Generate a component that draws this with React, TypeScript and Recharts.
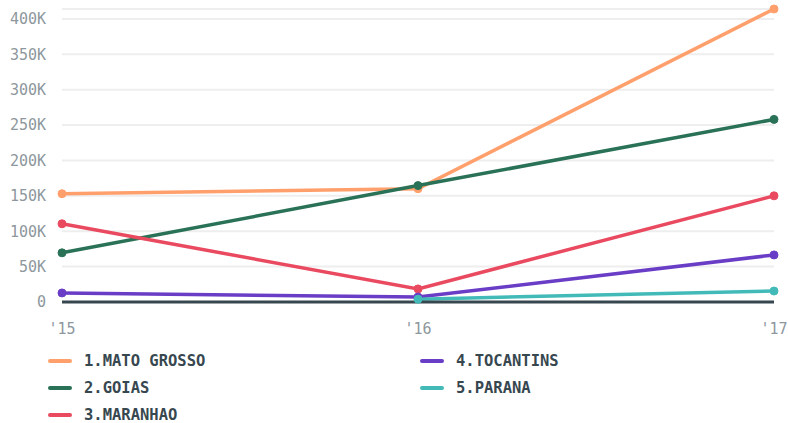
import { LineChart, Line, XAxis, YAxis, CartesianGrid } from 'recharts';

const years = ["'15", "'16", "'17"];
const matoGrosso = [153000, 160000, 414000];
const goias = [69500, 164500, 258000];
const maranhao = [110500, 18500, 150000];
const tocantins = [12800, 7000, 66500];
const parana = [null, 4000, 15500];
const yTicks = [0, 50000, 100000, 150000, 200000, 250000, 300000, 350000, 400000];

const series = [
  { key: 'mato', name: '1.MATO GROSSO', color: '#ffa06c', values: matoGrosso },
  { key: 'goias', name: '2.GOIAS', color: '#2a7257', values: goias },
  { key: 'maranhao', name: '3.MARANHAO', color: '#ea4a60', values: maranhao },
  { key: 'tocantins', name: '4.TOCANTINS', color: '#6a3dc6', values: tocantins },
  { key: 'parana', name: '5.PARANA', color: '#42bbb8', values: parana },
];

const data = years.map((year, i) => {
  const row: Record<string, string | number | null> = { year };
  series.forEach((s) => {
    row[s.key] = s.values[i];
  });
  return row;
});

const fmt = (v: number) => (v === 0 ? '0' : `${v / 1000}K`);

export default function App() {
  return (
    <div style={{ position: 'absolute', left: 0, top: 0, width: 788, height: 423, background: '#fff', overflow: 'hidden' }}>
      <LineChart width={788} height={346} data={data} margin={{ top: 9, right: 14, left: 0, bottom: 0 }}>
        <CartesianGrid stroke="#eeeeee" strokeWidth={2} vertical={false} />
        <XAxis
          dataKey="year"
          axisLine={{ stroke: '#37474f', strokeWidth: 3 }}
          tickLine={false}
          tickMargin={15}
          height={44}
          interval={0}
          tick={{ fontSize: 15, fill: '#8d979d', fontFamily: 'DejaVu Sans Mono' }}
        />
        <YAxis
          width={62}
          domain={[0, 'dataMax']}
          ticks={yTicks}
          interval={0}
          axisLine={false}
          tickLine={false}
          tickMargin={10}
          tickFormatter={fmt}
          tick={{ fontSize: 15, fill: '#8d979d', fontFamily: 'DejaVu Sans Mono' }}
        />
        {series.map((s) => (
          <Line
            key={s.key}
            dataKey={s.key}
            name={s.name}
            stroke={s.color}
            strokeWidth={3.5}
            dot={{ r: 4, fill: s.color, stroke: s.color, strokeWidth: 1 }}
            activeDot={false}
            isAnimationActive={false}
          />
        ))}
      </LineChart>
      <div
        style={{
          position: 'absolute',
          left: 48,
          top: 347,
          display: 'grid',
          gridTemplateColumns: '372px 300px',
          gridTemplateRows: 'repeat(3, 27px)',
          gridAutoFlow: 'column',
          fontFamily: 'DejaVu Sans Mono',
          fontWeight: 'bold',
          fontSize: 15.5,
          lineHeight: '12px',
          color: '#37474f',
        }}
      >
        {series.map((s) => (
          <div key={s.key} style={{ display: 'flex', alignItems: 'center' }}>
            <span style={{ display: 'inline-block', width: 24, height: 4, borderRadius: 2, background: s.color, marginRight: 12 }} />
            <span>{s.name}</span>
          </div>
        ))}
      </div>
    </div>
  );
}
